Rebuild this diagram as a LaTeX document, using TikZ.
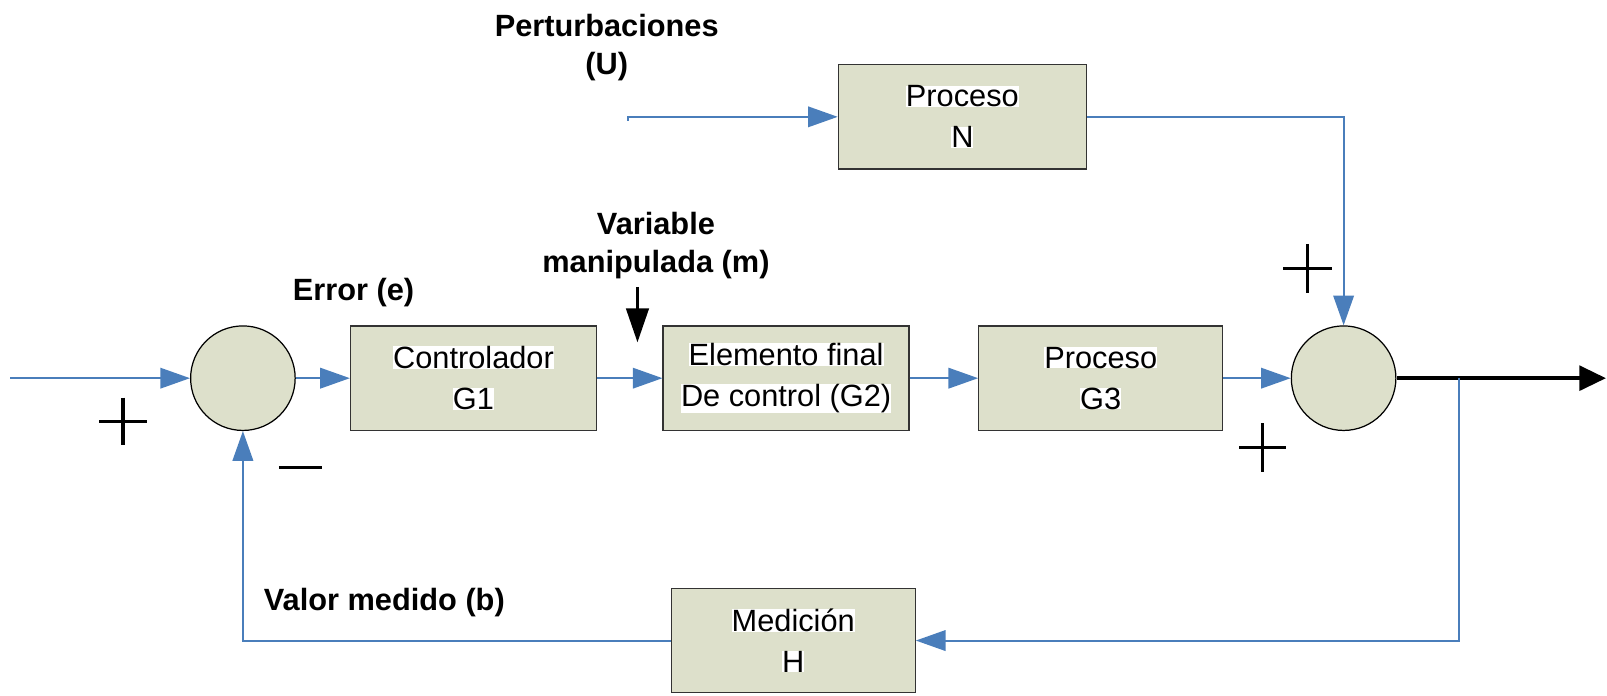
\documentclass[tikz,border=0pt]{standalone}
\usepackage{fontspec}
\setmainfont{Liberation Sans}
\usetikzlibrary{arrows.meta}

\definecolor{flowblue}{RGB}{74,126,187}
\definecolor{boxfill}{RGB}{221,224,203}

% white highlight behind the text lines inside the blocks
\newcommand{\wbg}[1]{{\setlength{\fboxsep}{0pt}\colorbox{white}{#1}}}

\tikzset{
  block/.style={draw=black!80, line width=1.2pt, fill=boxfill,
    minimum width=240pt, minimum height=102pt, inner sep=0pt,
    align=center, font=\fontsize{30}{40}\selectfont},
  sumjunc/.style={circle, draw=black, line width=1.2pt, fill=boxfill,
    minimum size=102pt, inner sep=0pt},
  wire/.style={draw=flowblue, line width=2pt},
  flow/.style={wire, -{Triangle[length=29pt,width=20pt]}},
  lbl/.style={font=\fontsize{30}{37}\selectfont\bfseries, align=center, inner sep=0pt},
  sign/.style={line width=3pt},
}

\begin{document}
\begin{tikzpicture}[x=1pt, y=-1pt]
  \useasboundingbox (0,0) rectangle (1568,679);

  % blocks and summing junctions
  \node[sumjunc] (s1) at (237,369) {};
  \node[block] (g1) at (462,369) {\wbg{Controlador}\\\wbg{G1}};
  \node[block] (g2) at (767,369) {\wbg{Elemento final}\\\wbg{De control (G2)}};
  \node[block, minimum width=238pt] (g3) at (1074,369) {\wbg{Proceso}\\\wbg{G3}};
  \node[sumjunc] (s2) at (1311,369) {};
  \node[block, minimum width=242pt] (pn) at (939,114) {\wbg{Proceso}\\\wbg{N}};
  \node[block, minimum width=238pt] (h) at (774,625) {\wbg{Medición}\\\wbg{H}};

  % free ends
  \coordinate (in) at (10,369);
  \coordinate (out) at (1567,369);
  \coordinate (u) at (613,114);
  \coordinate (tap) at (1424,369);
  \coordinate (mtop) at (622,280);
  \coordinate (mtip) at (622,334);

  % forward path
  \draw[flow] (in) -- (s1.west);
  \draw[flow] (s1.east) -- (g1.west);
  \draw[flow] (g1.east) -- (g2.west);
  \draw[flow] (g2.east) -- (g3.west);
  \draw[flow] (g3.east) -- (s2.west);
  \draw[line width=4pt, -{Triangle[length=26pt,width=24pt]}] (s2.east) -- (out);

  % disturbance path
  \draw[flow] ([yshift=-4pt]u) -- (u) -- (pn.west);
  \draw[flow] (pn.east) -| (s2.north);

  % feedback path
  \draw[flow] (tap) |- (h.east);
  \draw[flow] (h.west) -| (s1.south);

  % manipulated variable marker
  \draw[line width=2.5pt, -{Triangle[length=33pt,width=22pt]}] (mtop) -- (mtip);

  % labels
  \node[lbl] (lu) at (592,46) {Perturbaciones\\(U)};
  \node[lbl] (lm) at (640,240) {Variable\\manipulada (m)};
  \node[lbl] (le) at (345,285) {Error (e)};
  \node[lbl] (lb) at (375,588) {Valor medido (b)};

  % signs at the summing junctions
  \draw[sign] (97,411) -- (143,411) (120,388) -- (120,434);
  \draw[sign] (272,456) -- (314,456);
  \draw[sign] (1252,262) -- (1300,262) (1276,238) -- (1276,286);
  \draw[sign] (1209,437) -- (1255,437) (1232,413) -- (1232,461);
\end{tikzpicture}
\end{document}
